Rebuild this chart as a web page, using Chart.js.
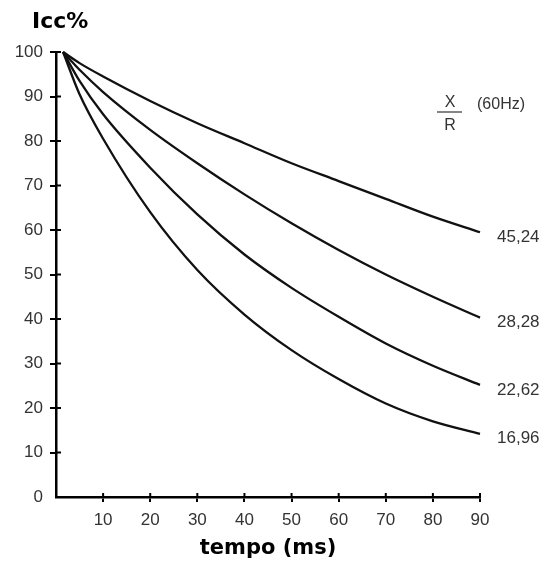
<!DOCTYPE html>
<html>
<head>
<meta charset="utf-8">
<script src="https://cdn.jsdelivr.net/npm/chart.js@4"></script>
<style>
html,body{margin:0;padding:0;background:#fff;}
#wrap{width:548px;height:563px;}
</style>
</head>
<body>
<div id="wrap"><canvas id="c" width="548" height="563"></canvas></div>
<script>
// Time (ms)
const tempo = [1.5, 5, 10, 20, 30, 40, 50, 60, 70, 80, 90];
// Icc% for each X/R ratio (60Hz)
const xr4524 = [100, 97.5, 94.5, 89, 84, 79.5, 75, 71, 67, 63, 59.5];
const xr2828 = [100, 96, 91, 82.5, 75, 68, 61.5, 55.5, 50, 45, 40.3];
const xr2262 = [100, 93.5, 86, 74, 63.5, 54.5, 47, 40.5, 34.5, 29.5, 25.2];
const xr1696 = [100, 90.5, 80.5, 64, 51, 41, 33, 26.5, 21, 17, 14.2];
const seriesLabels = ['45,24', '28,28', '22,62', '16,96'];
const yTicks = [0, 10, 20, 30, 40, 50, 60, 70, 80, 90, 100];
const xTicks = [10, 20, 30, 40, 50, 60, 70, 80, 90];

const FONT = "'Liberation Sans', Arial, sans-serif";
const BFONT = "'DejaVu Sans', Verdana, sans-serif";
const series = [xr4524, xr2828, xr2262, xr1696];

const datasets = series.map((s, i) => ({
  label: seriesLabels[i],
  data: s.map((v, k) => ({x: tempo[k], y: v})),
  borderColor: '#111',
  borderWidth: 2.3,
  pointRadius: 0,
  fill: false,
  cubicInterpolationMode: 'monotone',
  clip: false
}));

const decor = {
  id: 'decor',
  afterDraw(chart) {
    const ctx = chart.ctx;
    const xs = chart.scales.x, ys = chart.scales.y;
    const x0 = xs.getPixelForValue(0), y0 = ys.getPixelForValue(0);
    ctx.save();
    ctx.strokeStyle = '#000';
    ctx.lineWidth = 2;
    // inner halves of the crossing ticks
    yTicks.forEach(v => {
      if (v === 0) return;
      const py = ys.getPixelForValue(v);
      ctx.beginPath(); ctx.moveTo(x0, py); ctx.lineTo(x0 + 5, py); ctx.stroke();
    });
    xTicks.forEach(v => {
      const px = xs.getPixelForValue(v);
      ctx.beginPath(); ctx.moveTo(px, y0); ctx.lineTo(px, y0 - 4); ctx.stroke();
    });
    // curve labels
    ctx.fillStyle = '#333';
    ctx.font = '17px ' + FONT;
    ctx.textAlign = 'left';
    ctx.textBaseline = 'middle';
    chart.data.datasets.forEach((ds, i) => {
      const last = ds.data[ds.data.length - 1];
      const px = xs.getPixelForValue(last.x);
      const py = ys.getPixelForValue(last.y);
      ctx.fillText(ds.label, px + 17, py + 5);
    });
    // X/R (60Hz) header
    ctx.font = '16px ' + FONT;
    ctx.textAlign = 'center';
    ctx.fillText('X', 450, 103);
    ctx.fillText('R', 450, 126);
    ctx.beginPath(); ctx.lineWidth = 1.2; ctx.strokeStyle = '#333';
    ctx.moveTo(437, 112); ctx.lineTo(462, 112); ctx.stroke();
    ctx.textAlign = 'left';
    ctx.font = '16px ' + FONT;
    ctx.fillText('(60Hz)', 477, 105);
    // Y title
    ctx.fillStyle = '#000';
    ctx.font = 'bold 22px ' + BFONT;
    ctx.textBaseline = 'middle';
    ctx.fillText('Icc%', 32, 22);
    ctx.restore();
  }
};

new Chart(document.getElementById('c'), {
  type: 'line',
  data: {datasets},
  options: {
    responsive: false,
    animation: false,
    devicePixelRatio: 1,
    layout: {padding: {top: 52, right: 68, left: 0, bottom: 0}},
    plugins: {legend: {display: false}, tooltip: {enabled: false}},
    scales: {
      x: {
        type: 'linear',
        min: 0, max: 90,
        afterBuildTicks: s => { s.ticks = [0].concat(xTicks).map(v => ({value: v})); },
        afterFit: s => { s.height = 66; },
        ticks: {
          callback: v => (v === 0 ? '' : String(v)),
          font: {size: 17, family: FONT},
          color: '#333',
          padding: 8,
          maxRotation: 0
        },
        grid: {
          drawOnChartArea: false,
          tickLength: 5,
          lineWidth: 2,
          color: c => (c.tick && c.tick.value === 0 ? 'rgba(0,0,0,0)' : '#000')
        },
        border: {color: '#000', width: 2.5},
        title: {
          display: true,
          text: 'tempo (ms)',
          color: '#000',
          font: {size: 21, weight: 'bold', family: BFONT},
          padding: {top: 0, bottom: 2}
        }
      },
      y: {
        min: 0, max: 100,
        afterBuildTicks: s => { s.ticks = yTicks.map(v => ({value: v})); },
        afterFit: s => { s.width = 56; },
        ticks: {
          font: {size: 17, family: FONT},
          color: '#333',
          padding: 7
        },
        grid: {
          drawOnChartArea: false,
          tickLength: 6,
          lineWidth: 2,
          color: c => (c.tick && c.tick.value === 0 ? 'rgba(0,0,0,0)' : '#000')
        },
        border: {color: '#000', width: 2.5}
      }
    }
  },
  plugins: [decor]
});
</script>
</body>
</html>
